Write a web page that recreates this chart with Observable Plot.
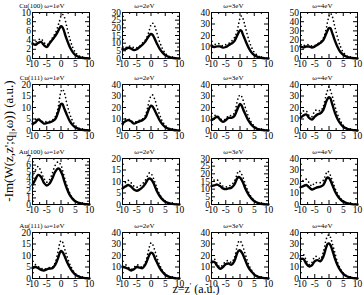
<!DOCTYPE html>
<html><head><meta charset="utf-8">
<script src="https://cdn.jsdelivr.net/npm/d3@7"></script>
<script src="https://cdn.jsdelivr.net/npm/@observablehq/plot@0.6"></script>
<style>
html,body{margin:0;padding:0;background:#fff;}
#fig{position:relative;width:364px;height:295px;overflow:hidden;font-family:"Liberation Serif","DejaVu Serif",serif;color:#000;}
.panel{position:absolute;}
#ylab{position:absolute;left:9px;top:141px;transform:translate(-50%,-50%) rotate(-90deg);white-space:nowrap;font-size:13px;}
#xlab{position:absolute;left:196px;top:288.5px;transform:translate(-50%,-50%);font-size:12px;white-space:nowrap;line-height:12px;}
sub{font-size:8px;vertical-align:-2px;}
sup{font-size:8px;vertical-align:4px;line-height:0;}
</style></head><body><div id="fig"></div>
<script>
// shared z grid (a.u.)
const Z = [-10,-9,-8,-7,-6,-5,-4,-3,-2,-1,-0.5,0,0.5,1,1.5,2,3,4,5,6,7,8,9,10];
const xTicks = [-10,-5,0,5,10];
const xMinor = [-7.5,-2.5,2.5,7.5];

// Cu(100)
const cu100_w1_solid = [3.2,3.0,3.4,3.6,2.9,2.5,3.3,4.1,4.9,6.0,6.6,7.0,6.8,6.1,5.1,4.2,2.6,1.5,0.8,0.4,0.2,0.1,0.04,0];
const cu100_w1_dots  = [3.5,3.6,4.0,4.3,3.5,3.0,3.6,4.5,5.5,7.2,8.2,9.2,9.6,9.3,8.3,7.0,4.5,2.6,1.4,0.7,0.35,0.15,0.05,0];
const cu100_w2_solid = [6,6,7,6.5,5.5,6,7.5,9,11,14,15.3,16,15.5,14,12,10,6.5,4,2.2,1.2,0.6,0.3,0.1,0];
const cu100_w2_dots  = [7,7,8,8,7,7,8,10,12,16,19,22,23,22.5,20,17,11,6.5,3.5,1.8,0.9,0.4,0.15,0];
const cu100_w3_solid = [11,10,10.5,10.5,9.5,10,11.5,13,15,20,22.5,24.5,24,21,18,15,9.5,5.5,3,1.6,0.8,0.4,0.15,0];
const cu100_w3_dots  = [12,12,13,12.5,11,12,13,15,18,24,30,35,37,35,31,26,17,10,5.5,3,1.5,0.7,0.3,0];
const cu100_w4_solid = [13,12,13,13,12,13,15,17,20,27,30.5,33,33,29,24.5,20,12.5,7,4,2.2,1.1,0.5,0.2,0];
const cu100_w4_dots  = [14,14,15,15,13.5,14,16,18,22,32,40,46,49,47,42,35,23,13,7,3.5,1.7,0.8,0.3,0];
// Cu(111)
const cu111_w1_solid = [3,3.5,4.8,4,3,3.2,3.5,4,5,8,10,11.5,11.5,10,8.5,7,4.3,2.5,1.4,0.8,0.4,0.2,0.08,0];
const cu111_w1_dots  = [4,4.8,5,4.5,3.5,4,4,4.5,6,10,14,17,18,17,15,12,7.5,4.3,2.3,1.2,0.6,0.3,0.1,0];
const cu111_w2_solid = [6,8,9,8,6,7,8,9,11,17,20,21.5,21,19,16.5,14,9,5.5,3,1.7,0.9,0.4,0.15,0];
const cu111_w2_dots  = [8,10,10,8.5,7,8,9,10,13,22,27,30,31,29,26,21,14,8,4.5,2.3,1.2,0.5,0.2,0];
const cu111_w3_solid = [9,10.5,12,9.5,7.5,9,11,11,12.5,18,21,23,22,19,16,13.5,8.5,5,2.8,1.5,0.8,0.4,0.15,0];
const cu111_w3_dots  = [12,13,13,10.5,9,10,13,13,15,25,29,31,30,27,23,19,12,7,4,2,1,0.5,0.2,0];
const cu111_w4_solid = [11,13,14,11,9.5,12,14,15,18,25,27.5,29,28,24,20,16,10,6,3.3,1.8,1,0.5,0.2,0];
const cu111_w4_dots  = [15,17,17,13,12,17,18,17,21,31,35,38,35,31,27,22,14,8.5,4.5,2.5,1.3,0.6,0.2,0];
// Au(100)
const au100_w1_solid = [3,3.8,4.5,4.2,3.3,2.9,3.2,4,5,5.5,5.4,5,4.5,3.8,3.1,2.5,1.5,0.9,0.5,0.3,0.15,0.08,0.03,0];
const au100_w1_dots  = [4.2,5.2,5.8,5,4,3.4,3.8,4.8,6,6.5,6.3,6,5.3,4.5,3.7,3,1.8,1,0.6,0.3,0.15,0.08,0.03,0];
const au100_w2_solid = [7,7.8,8.5,7.8,6.5,6,6.5,7.5,9,11,11.3,11,10.2,9,7.5,6,3.8,2.2,1.2,0.7,0.35,0.15,0.05,0];
const au100_w2_dots  = [8.5,9.5,10.5,9.5,8,7.5,8,9,10.5,13,13.8,13.5,12.5,11,9.2,7.5,4.5,2.6,1.4,0.8,0.4,0.2,0.05,0];
const au100_w3_solid = [12,12.5,13,12,10.5,10,10.5,11,13,17,18,17.5,16.3,14.5,12.2,10,6.5,4,2.2,1.2,0.6,0.3,0.1,0];
const au100_w3_dots  = [14,16,16,14,12,11.5,12,13,15,20,22,21.5,20,18,15.3,12.5,8,4.8,2.6,1.4,0.7,0.3,0.1,0];
const au100_w4_solid = [15,16,17,15,13,14,15,15.5,17,22,23.5,23,21,18,15,12,7.5,4.5,2.5,1.4,0.7,0.35,0.1,0];
const au100_w4_dots  = [18,21,22,19,16,19,19,19,21,27,29,28,25.5,22,18.5,15,9.5,5.5,3,1.7,0.9,0.4,0.15,0];
// Au(111)
const au111_w1_solid = [4.5,5,4.5,3.8,3.5,4,4.3,4.5,6,9,11,12,11.5,10.5,9,7.5,5,3,1.7,1,0.5,0.25,0.1,0];
const au111_w1_dots  = [5,6,5.2,4.5,4,4.5,4.8,5,7,12,15,16.5,16,14,12,10,6.5,4,2.2,1.2,0.6,0.3,0.1,0];
const au111_w2_solid = [10,9.5,8.5,7,8,10,9.5,9,12,18,21,22.5,22,20,17,14.5,9.5,5.8,3.3,1.8,0.9,0.45,0.15,0];
const au111_w2_dots  = [11,12,10,8,9.5,12,11,10,14,23,28,31,30,27,23,19,12,7,4,2.2,1.1,0.5,0.2,0];
const au111_w3_solid = [14,14.5,11,8.5,10,12.5,13,12,15,22,24,24.5,23,21,18,15,9.5,6,3.4,1.9,1,0.5,0.2,0];
const au111_w3_dots  = [16,17,13,10,12,15,15.5,14,18,28,32,33,31,28,24,20,12.5,7.5,4.2,2.3,1.2,0.6,0.2,0];
const au111_w4_solid = [17,17,13,10.5,11.5,15,16,15,19,27,30,30.5,29,26,22,18,11.5,7,4,2.2,1.2,0.6,0.2,0];
const au111_w4_dots  = [20,21,16,12,14,19,19,17,23,34,37,38,36,32,27.5,23,14,8.5,4.8,2.7,1.4,0.7,0.3,0];

// y tick label sets
const yT10by2 = [0,2,4,6,8,10];
const yT7by1  = [0,1,2,3,4,5,6,7];
const yT20by5 = [0,5,10,15,20];
const yT30by5 = [0,5,10,15,20,25,30];
const yT40by10 = [0,10,20,30,40];
const yT50by10 = [0,10,20,30,40,50];

const titles = [
  ["Cu(100) \u03c9=1eV","\u03c9=2eV","\u03c9=3eV","\u03c9=4eV"],
  ["Cu(111) \u03c9=1eV","\u03c9=2eV","\u03c9=3eV","\u03c9=4eV"],
  ["Au(100) \u03c9=1eV","\u03c9=2eV","\u03c9=3eV","\u03c9=4eV"],
  ["Au(111) \u03c9=1eV","\u03c9=2eV","\u03c9=3eV","\u03c9=4eV"]
];
const grid = [
  [[cu100_w1_solid,cu100_w1_dots,yT10by2],[cu100_w2_solid,cu100_w2_dots,yT30by5],[cu100_w3_solid,cu100_w3_dots,yT40by10],[cu100_w4_solid,cu100_w4_dots,yT50by10]],
  [[cu111_w1_solid,cu111_w1_dots,yT20by5],[cu111_w2_solid,cu111_w2_dots,yT40by10],[cu111_w3_solid,cu111_w3_dots,yT40by10],[cu111_w4_solid,cu111_w4_dots,yT40by10]],
  [[au100_w1_solid,au100_w1_dots,yT7by1],[au100_w2_solid,au100_w2_dots,yT20by5],[au100_w3_solid,au100_w3_dots,yT30by5],[au100_w4_solid,au100_w4_dots,yT40by10]],
  [[au111_w1_solid,au111_w1_dots,yT20by5],[au111_w2_solid,au111_w2_dots,yT40by10],[au111_w3_solid,au111_w3_dots,yT40by10],[au111_w4_solid,au111_w4_dots,yT40by10]]
];

// layout
const colLeft = [32,122,211,300];
const rowTop = [12,84,158,232];
const W = 57, H = 46, ml = 22, mr = 10, mt = 12, mb = 14;
const fmt = d => String(d); // plain hyphen-minus like the original

const fig = document.getElementById("fig");
grid.forEach((row, r) => row.forEach(([solid, dots, yTicks], c) => {
  const data = Z.map((z, i) => ({z, s: solid[i], d: dots[i]}));
  const yMinor = d3.pairs(yTicks).map(([a, b]) => (a + b) / 2);
  const chart = Plot.plot({
    width: W + ml + mr, height: H + mt + mb,
    marginLeft: ml, marginRight: mr, marginTop: mt, marginBottom: mb,
    x: {domain: [-10, 10]},
    y: {domain: [0, yTicks[yTicks.length - 1]]},
    style: {fontFamily: "'Liberation Serif', serif", fontSize: "9.5px", background: "transparent", overflow: "visible", color: "#000"},
    marks: [
      Plot.axisX(xTicks, {tickSize: 0, tickPadding: 2, label: null, tickFormat: fmt}),
      Plot.axisY(yTicks, {tickSize: 0, tickPadding: 1.5, label: null, tickFormat: fmt}),
      Plot.tickX(xTicks, {insetTop: H - 4, strokeWidth: 1}),
      Plot.tickX(xTicks, {insetBottom: H - 4, strokeWidth: 1}),
      Plot.tickX(xMinor, {insetTop: H - 2, strokeWidth: 1}),
      Plot.tickX(xMinor, {insetBottom: H - 2, strokeWidth: 1}),
      Plot.tickY(yTicks, {insetRight: W - 4, strokeWidth: 1}),
      Plot.tickY(yTicks, {insetLeft: W - 4, strokeWidth: 1}),
      Plot.tickY(yMinor, {insetRight: W - 2, strokeWidth: 1}),
      Plot.tickY(yMinor, {insetLeft: W - 2, strokeWidth: 1}),
      Plot.line(data, {x: "z", y: "d", curve: "catmull-rom", strokeWidth: 1.7, strokeDasharray: "0,3.8", strokeLinecap: "round"}),
      Plot.line(data, {x: "z", y: "s", curve: "catmull-rom", strokeWidth: 2.4}),
      Plot.frame({strokeWidth: 1}),
      Plot.text([titles[r][c]], {frameAnchor: "top-left", dx: 32, dy: -5, textAnchor: "end", lineAnchor: "bottom", fontSize: 7})
    ]
  });
  chart.classList.add("panel");
  chart.style.left = (colLeft[c] - ml) + "px";
  chart.style.top = (rowTop[r] - mt) + "px";
  fig.appendChild(chart);
}));

const yl = document.createElement("div");
yl.id = "ylab";
yl.innerHTML = "-Im(W(z,z';q<sub>||</sub>,\u03c9)) (a.u.)";
fig.appendChild(yl);
const xl = document.createElement("div");
xl.id = "xlab";
xl.innerHTML = "z=z<sup>'</sup> (a.u.)";
fig.appendChild(xl);
</script></body></html>
